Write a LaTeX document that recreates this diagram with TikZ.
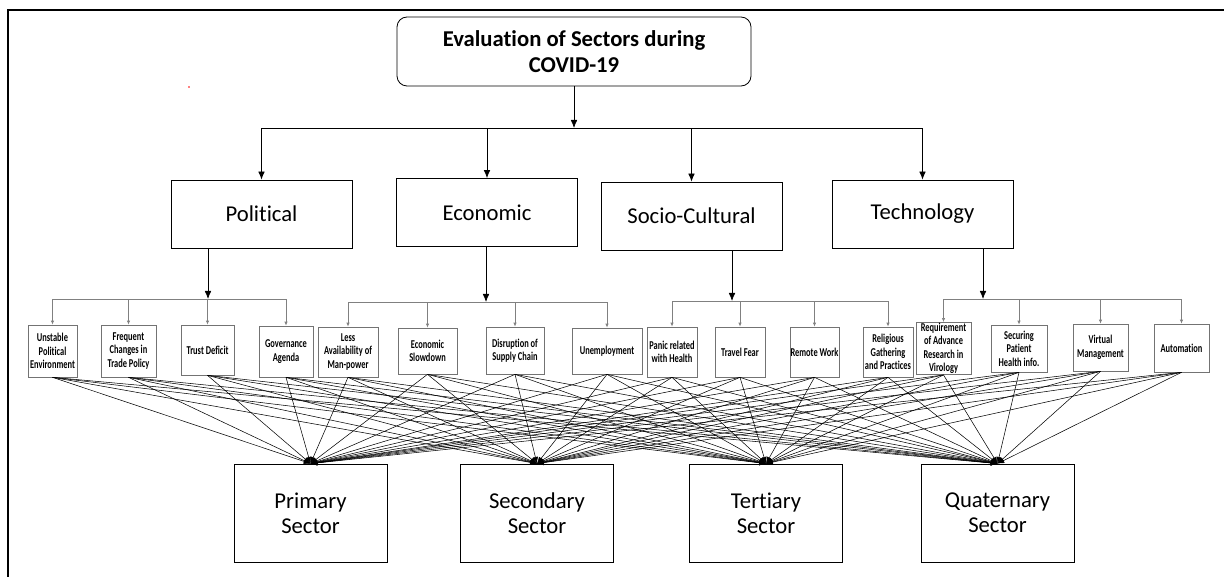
\documentclass[tikz,border=0pt]{standalone}
\usepackage{fontspec}
\setmainfont{Carlito}[Ligatures=NoCommon]
\newfontfamily\leaffont[FakeStretch=0.7,Ligatures=NoCommon]{Carlito}
\usetikzlibrary{arrows.meta}

\begin{document}
\begin{tikzpicture}[x=0.75pt,y=0.75pt,yscale=-1,xscale=1,
  mainbox/.style={draw, line width=0.6pt, minimum width=135.75pt, minimum height=51pt, font=\fontsize{17}{19}\selectfont},
  leafbox/.style={draw=black!55, line width=0.5pt, inner sep=0.5pt, align=center, font=\leaffont\bfseries\fontsize{9}{10.1}\selectfont},
  sectorbox/.style={draw, line width=0.6pt, minimum width=114.75pt, minimum height=73.5pt, align=center, font=\fontsize{17}{19}\selectfont},
  toparrow/.style={line width=0.6pt, -{Latex[length=6pt,width=5pt]}},
  brline/.style={draw=black!50, line width=0.5pt, -{Latex[length=3pt,width=2.5pt]}},
  link/.style={line width=0.4pt, -{Latex[length=5pt,width=4pt]}}]
\useasboundingbox (0,0) rectangle (1224,577);

%Shape: Frame
\draw [line width=1.5pt] (8,577) -- (8,10) -- (1224,10) ;
%Shape: stray dot
\fill [red] (189,87) circle (0.8) ;

% Title
\node [draw, line width=0.6pt, rounded corners=7.5pt, minimum width=265.5pt, minimum height=51.75pt, align=center, font=\bfseries\fontsize{17}{19}\selectfont] (title) at (574,51.5) {Evaluation of Sectors during\\COVID-19};

% Main factors
\node [mainbox] (pol) at (261.5,214) {Political};
\node [mainbox] (eco) at (487,212.5) {Economic};
\node [mainbox] (soc) at (691.5,216) {Socio-Cultural};
\node [mainbox] (tec) at (922.5,214) {Technology};

% Sub factors
\node [leafbox, minimum width=36.75pt, minimum height=39pt] (l1) at (52.5,351) {Unstable\\Political\\Environment};
\node [leafbox, minimum width=41.25pt, minimum height=39pt] (l2) at (128.5,351) {Frequent\\Changes in\\Trade Policy};
\node [leafbox, minimum width=39.75pt, minimum height=37.5pt] (l3) at (207.5,350) {Trust Deficit};
\node [leafbox, minimum width=40.5pt, minimum height=38.25pt] (l4) at (286,351.5) {Governance\\Agenda};
\node [leafbox, minimum width=45pt, minimum height=37.5pt] (l5) at (348,352) {Less\\Availability of\\Man-power};
\node [leafbox, minimum width=44.25pt, minimum height=34.5pt] (l6) at (427.5,351) {Economic\\Slowdown};
\node [leafbox, minimum width=43.5pt, minimum height=35.25pt] (l7) at (515,350.5) {Disruption of\\Supply Chain};
\node [leafbox, minimum width=52.5pt, minimum height=34.5pt] (l8) at (607,351) {Unemployment};
\node [leafbox, minimum width=37.5pt, minimum height=37.5pt] (l9) at (672,352) {Panic related\\with Health};
\node [leafbox, minimum width=37.5pt, minimum height=37.5pt] (l10) at (740,352) {Travel Fear};
\node [leafbox, minimum width=36.75pt, minimum height=37.5pt] (l11) at (814.5,352) {Remote Work};
\node [leafbox, minimum width=37.5pt, minimum height=37.5pt] (l12) at (888,352) {Religious\\Gathering\\and Practices};
\node [leafbox, minimum width=41.25pt, minimum height=36.75pt] (l13) at (943.5,348.5) {Requirement\\of Advance\\Research in\\Virology};
\node [leafbox, minimum width=42pt, minimum height=35.25pt] (l14) at (1019,348.5) {Securing\\Patient\\Health info.};
\node [leafbox, minimum width=41.25pt, minimum height=35.25pt] (l15) at (1100.5,347.5) {Virtual\\Management};
\node [leafbox, minimum width=41.25pt, minimum height=36pt] (l16) at (1181.5,348) {Automation};

% Sectors
\node [sectorbox] (pri) at (310.5,513) {Primary\\Sector};
\node [sectorbox] (sec) at (537,513) {Secondary\\Sector};
\node [sectorbox] (ter) at (766,513) {Tertiary\\Sector};
\node [sectorbox] (qua) at (997.5,513) {Quaternary\\Sector};

% Hubs
\coordinate (hub) at (574,128);
\coordinate (polhub) at (208,299);
\coordinate (ecohub) at (486,302);
\coordinate (sochub) at (732,301);
\coordinate (techub) at (983,299);

% Title to factors
\draw [toparrow] (title.south) -- (hub);
\foreach \n in {pol,eco,soc,tec}
  \draw [toparrow] (hub) -| (\n.north);

% Factors to sub factors
\draw [toparrow] (pol.south -| polhub) -- (polhub);
\draw [toparrow] (eco.south -| ecohub) -- (ecohub);
\draw [toparrow] (soc.south -| sochub) -- (sochub);
\draw [toparrow] (tec.south -| techub) -- (techub);
\foreach \l in {1,...,4} \draw [brline] (polhub) -| (l\l.north);
\foreach \l in {5,...,8} \draw [brline] (ecohub) -| (l\l.north);
\foreach \l in {9,...,12} \draw [brline] (sochub) -| (l\l.north);
\foreach \l in {13,...,16} \draw [brline] (techub) -| (l\l.north);

% Sub factors to sectors
\foreach \l in {1,...,16}
  \foreach \s in {pri,sec,ter,qua}
    \draw [link] (l\l.south) -- (\s.north);

\end{tikzpicture}
\end{document}
